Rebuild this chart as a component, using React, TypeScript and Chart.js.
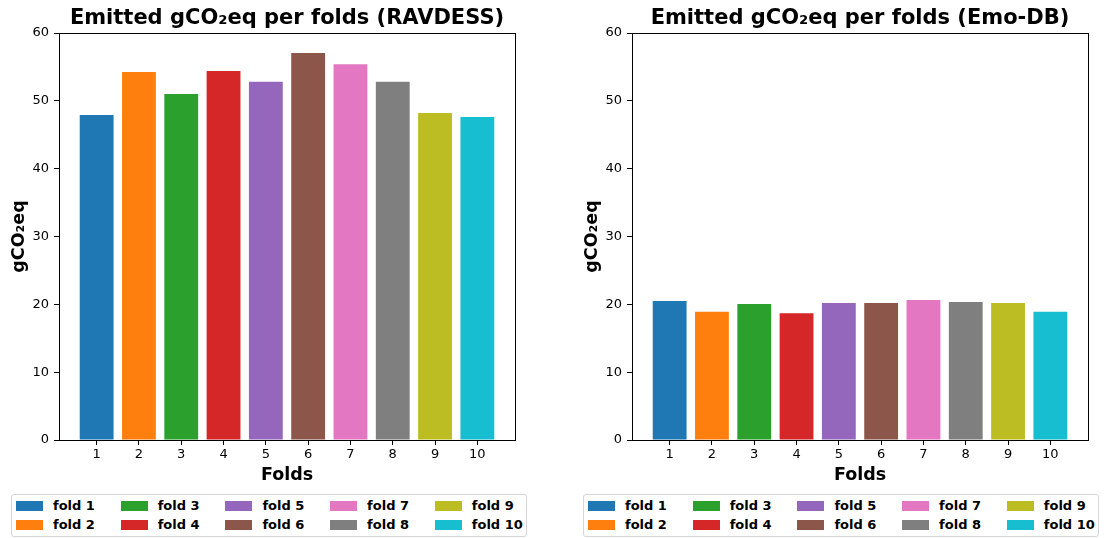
import React, { useEffect, useRef } from 'react';
import { Chart, registerables } from 'chart.js';

Chart.register(...registerables);

const foldNumbers = [1, 2, 3, 4, 5, 6, 7, 8, 9, 10];
const foldLabels = ['fold 1', 'fold 2', 'fold 3', 'fold 4', 'fold 5', 'fold 6', 'fold 7', 'fold 8', 'fold 9', 'fold 10'];
const ravdessValues = [47.9, 54.25, 51.0, 54.4, 52.8, 57.05, 55.4, 52.8, 48.2, 47.6];
const emodbValues = [20.5, 18.9, 20.05, 18.7, 20.2, 20.2, 20.65, 20.35, 20.2, 18.9];
const foldColors = ['#1f77b4', '#ff7f0e', '#2ca02c', '#d62728', '#9467bd', '#8c564b', '#e377c2', '#7f7f7f', '#bcbd22', '#17becf'];
const yTickValues = [0, 10, 20, 30, 40, 50, 60];

const FONT = '"DejaVu Sans", sans-serif';

const framePlugin = {
  id: 'frame',
  afterDraw(chart: any) {
    const { ctx, chartArea: a } = chart;
    ctx.save();
    ctx.strokeStyle = '#000';
    ctx.lineWidth = 1;
    const l = Math.round(a.left) + 0.5;
    const t = Math.round(a.top) + 0.5;
    const r = Math.round(a.right) + 0.5;
    const b = Math.round(a.bottom) + 0.5;
    ctx.strokeRect(l, t, r - l, b - t);
    ctx.restore();
  },
};

function FoldChart({ title, values, leftPad, rightPad }: { title: string; values: number[]; leftPad: number; rightPad: number }) {
  const ref = useRef<HTMLCanvasElement>(null);
  useEffect(() => {
    const chart = new Chart(ref.current as HTMLCanvasElement, {
      type: 'bar',
      data: {
        datasets: [
          {
            label: title,
            data: foldNumbers.map((f, i) => ({ x: f, y: values[i] })),
            backgroundColor: foldColors,
            borderWidth: 0,
            barPercentage: 0.8,
            categoryPercentage: 1,
          },
        ],
      },
      options: {
        responsive: false,
        animation: false,
        devicePixelRatio: 1,
        layout: { padding: { left: leftPad, right: rightPad, top: 0, bottom: 0 } },
        plugins: {
          legend: { display: false },
          tooltip: { enabled: false },
          title: {
            display: true,
            fullSize: false,
            text: title,
            color: '#000',
            font: { family: FONT, size: 21, weight: 'bold', lineHeight: 1.2 },
            padding: { top: 6.4, bottom: 1.4 },
          },
        },
        scales: {
          x: {
            type: 'linear',
            min: 0.11,
            max: 10.89,
            offset: false,
            afterBuildTicks: (s: any) => {
              s.ticks = foldNumbers.map((v) => ({ value: v }));
            },
            afterFit: (s: any) => {
              s.height = 50;
            },
            ticks: {
              autoSkip: false,
              maxRotation: 0,
              color: '#000',
              padding: 2,
              font: { family: FONT, size: 13 },
              callback: (v: any) => String(v),
            },
            grid: { display: true, offset: false, drawOnChartArea: false, drawTicks: true, tickLength: 5, color: '#000', tickColor: '#000' },
            border: { display: false },
            title: {
              display: true,
              text: 'Folds',
              color: '#000',
              font: { family: FONT, size: 17.5, weight: 'bold', lineHeight: 1.2 },
              padding: { top: 0, bottom: 4.5 },
            },
          },
          y: {
            type: 'linear',
            min: 0,
            max: 60,
            afterBuildTicks: (s: any) => {
              s.ticks = yTickValues.map((v) => ({ value: v }));
            },
            afterFit: (s: any) => {
              s.width = 59;
            },
            ticks: {
              color: '#000',
              padding: 5,
              font: { family: FONT, size: 13 },
              callback: (v: any) => String(v),
            },
            grid: { display: true, offset: false, drawOnChartArea: false, drawTicks: true, tickLength: 5, color: '#000', tickColor: '#000' },
            border: { display: false },
            title: {
              display: true,
              text: 'gCO₂eq',
              color: '#000',
              font: { family: FONT, size: 17.5, weight: 'bold', lineHeight: 1.2 },
              padding: { top: 9, bottom: 0 },
            },
          },
        },
      } as any,
      plugins: [framePlugin],
    });
    return () => chart.destroy();
  }, [title, values, leftPad, rightPad]);
  return <canvas ref={ref} width={552} height={490} style={{ display: 'block', width: 552, height: 490 }} />;
}

function FoldLegend({ left }: { left: number }) {
  const order = [0, 1, 2, 3, 4, 5, 6, 7, 8, 9];
  return (
    <div
      style={{
        position: 'absolute',
        left,
        top: 494,
        width: 516,
        height: 43,
        boxSizing: 'border-box',
        border: '1px solid #d6d6d6',
        borderRadius: 3,
        background: '#fff',
      }}
    >
      {order.map((i) => {
        const col = Math.floor(i / 2);
        const row = i % 2;
        const x = 4 + col * 104.7;
        const cy = row === 0 ? 11 : 30;
        return (
          <React.Fragment key={i}>
            <div
              style={{
                position: 'absolute',
                left: x,
                top: cy - 5,
                width: 27,
                height: 10,
                background: foldColors[i],
              }}
            />
            <div
              style={{
                position: 'absolute',
                left: x + 37,
                top: cy - 9,
                height: 18,
                lineHeight: '18px',
                fontFamily: FONT,
                fontWeight: 'bold',
                fontSize: 13,
                color: '#000',
                whiteSpace: 'nowrap',
              }}
            >
              {foldLabels[i]}
            </div>
          </React.Fragment>
        );
      })}
    </div>
  );
}

export default function App() {
  return (
    <div style={{ position: 'fixed', left: 0, top: 0, width: 1104, height: 538, background: '#fff', overflow: 'hidden' }}>
      <div style={{ position: 'absolute', left: 0, top: 0 }}>
        <FoldChart title="Emitted gCO₂eq per folds (RAVDESS)" values={ravdessValues} leftPad={0} rightPad={37} />
      </div>
      <div style={{ position: 'absolute', left: 552, top: 0 }}>
        <FoldChart title="Emitted gCO₂eq per folds (Emo-DB)" values={emodbValues} leftPad={21} rightPad={16} />
      </div>
      <FoldLegend left={11} />
      <FoldLegend left={583} />
    </div>
  );
}
